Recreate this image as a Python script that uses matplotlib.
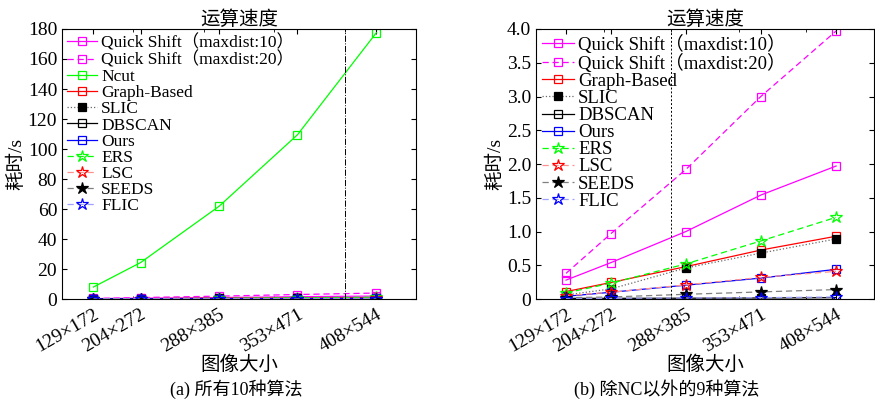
import matplotlib.pyplot as plt

plt.rcParams['font.family'] = ['Liberation Serif', 'Noto Sans CJK SC', 'DejaVu Sans']
plt.rcParams['axes.unicode_minus'] = False

# 图像大小 -> 像素数作为横坐标
sizes = ['129×172', '204×272', '288×385', '353×471', '408×544']
pixels = [129 * 172, 204 * 272, 288 * 385, 353 * 471, 408 * 544]

qs10 = [0.28, 0.54, 1.00, 1.54, 1.97]
qs20 = [0.38, 0.97, 1.92, 3.00, 3.97]
ncut = [8.0, 24.3, 61.8, 109.5, 177.5]
graph_based = [0.11, 0.245, 0.48, 0.725, 0.93]
slic = [0.06, 0.15, 0.46, 0.68, 0.89]
dbscan = [0.01, 0.01, 0.012, 0.015, 0.02]
ours = [0.04, 0.10, 0.205, 0.31, 0.44]
ers = [0.09, 0.235, 0.52, 0.86, 1.21]
lsc = [0.05, 0.10, 0.21, 0.32, 0.41]
seeds = [0.02, 0.03, 0.07, 0.105, 0.14]
flic = [0.005, 0.01, 0.015, 0.02, 0.03]

# (label, data, line color, marker, marker edge, marker face, linestyle)
series = [
    ('Quick Shift（maxdist:10）', qs10, 'magenta', 's', 'magenta', 'none', '-'),
    ('Quick Shift（maxdist:20）', qs20, 'magenta', 's', 'magenta', 'none', (0, (5, 3))),
    ('Ncut', ncut, 'lime', 's', 'lime', 'none', '-'),
    ('Graph-Based', graph_based, 'red', 's', 'red', 'none', '-'),
    ('SLIC', slic, 'dimgray', 's', 'black', 'black', ':'),
    ('DBSCAN', dbscan, 'black', 's', 'black', 'none', '-'),
    ('Ours', ours, 'blue', 's', 'blue', 'none', '-'),
    ('ERS', ers, 'lime', '*', 'lime', 'none', (0, (5, 3))),
    ('LSC', lsc, '#ff9090', '*', 'red', 'none', (0, (5, 3))),
    ('SEEDS', seeds, 'gray', '*', 'black', 'black', (0, (5, 3))),
    ('FLIC', flic, '#a0a0ff', '*', 'blue', 'none', (0, (5, 3))),
]

fig = plt.figure(figsize=(8.75, 4.05), dpi=100)
ax1 = fig.add_axes([0.0709, 0.2617, 0.4046, 0.6667])
ax2 = fig.add_axes([0.6126, 0.2617, 0.3863, 0.6667])


def draw(ax, skip_ncut, legend_size):
    for label, vals, lc, mk, mec, mfc, ls in series:
        if skip_ncut and label == 'Ncut':
            continue
        ms = 6.3 if mk == 's' else 9
        ax.plot(pixels, vals, color=lc, linestyle=ls, linewidth=0.9,
                marker=mk, markersize=ms, markeredgecolor=mec,
                markerfacecolor=mfc, markeredgewidth=0.9, label=label)
    ax.set_xlim(0, 250000)
    ax.set_xticks(pixels)
    ax.set_xticklabels(sizes, rotation=30, ha='right', rotation_mode='anchor')
    ax.set_xticks([50000, 100000, 150000, 200000], minor=True)
    ax.tick_params(direction='in', top=True, right=True, which='both', labelsize=14)
    ax.tick_params(axis='x', pad=5)
    ax.set_title('运算速度', fontsize=14, pad=2)
    ax.set_xlabel('图像大小', fontsize=14, labelpad=0)
    ax.set_ylabel('耗时/s', fontsize=14, labelpad=2)
    ax.legend(loc='upper left', frameon=False, fontsize=legend_size, labelspacing=0.0,
              handlelength=1.7, handletextpad=0.25, borderaxespad=0.1,
              borderpad=0.2)


draw(ax1, False, 12.5)
ax1.set_ylim(0, 180)
ax1.set_yticks(range(0, 181, 20))
ax1.axvline(200000, color='black', linestyle='-.', linewidth=0.7)

draw(ax2, True, 13.5)
ax2.set_ylim(0, 4.0)
ax2.set_yticks([0, 0.5, 1.0, 1.5, 2.0, 2.5, 3.0, 3.5, 4.0])
ax2.set_yticklabels(['0', '0.5', '1.0', '1.5', '2.0', '2.5', '3.0', '3.5', '4.0'])
ax2.axvline(100000, color='black', linestyle=(0, (2, 2)), linewidth=0.7)

fig.text(0.27, 0.025, '(a) 所有10种算法', ha='center', fontsize=13)
fig.text(0.762, 0.025, '(b) 除NC以外的9种算法', ha='center', fontsize=13)

fig.savefig('out.png', dpi=100)
